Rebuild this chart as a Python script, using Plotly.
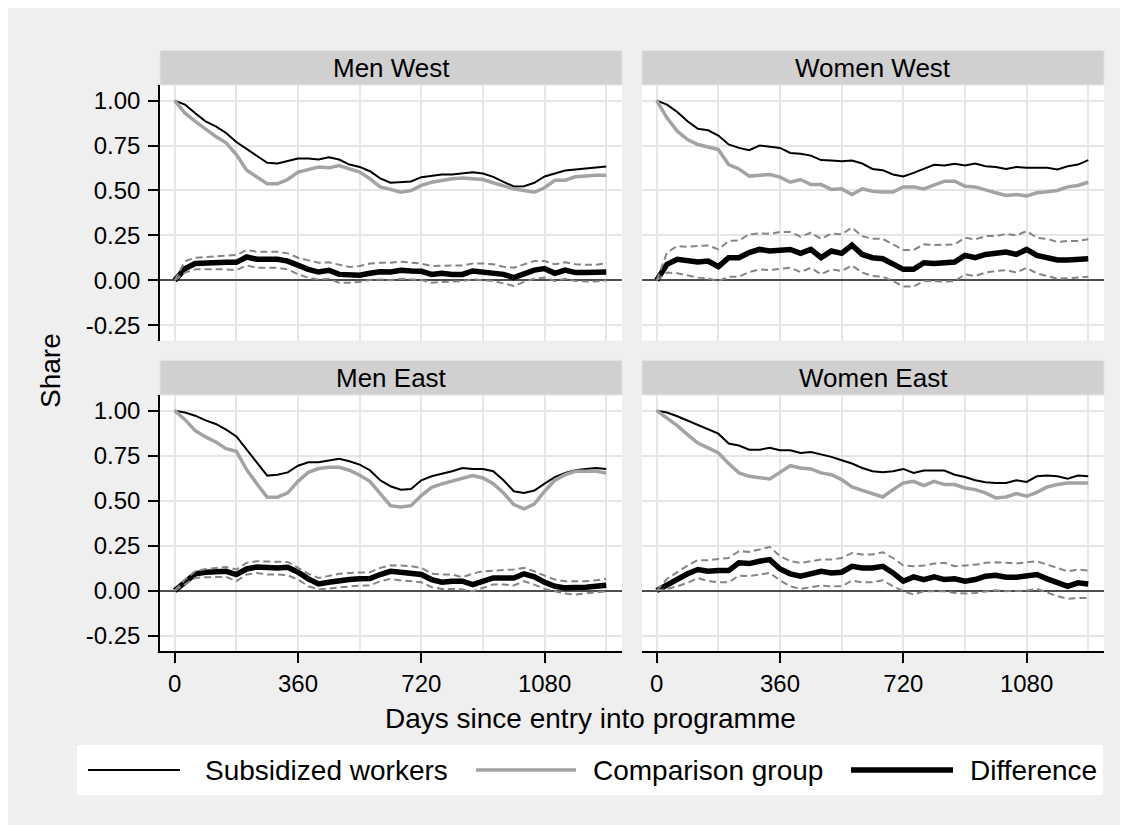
import plotly.graph_objects as go
from plotly.subplots import make_subplots

# ---------------- data ----------------
days = list(range(0, 1261, 30))

panels = ["Men West", "Women West", "Men East", "Women East"]

men_west_sub = [1.0, 0.978, 0.93, 0.885, 0.857, 0.82, 0.77, 0.73, 0.69, 0.654, 0.65, 0.663, 0.678, 0.678,
                0.672, 0.685, 0.672, 0.644, 0.631, 0.607, 0.567, 0.543, 0.548, 0.55, 0.574, 0.58, 0.589,
                0.589, 0.594, 0.602, 0.594, 0.576, 0.548, 0.522, 0.524, 0.543, 0.578, 0.593, 0.611, 0.617,
                0.622, 0.626, 0.633]
men_west_cmp = [1.0, 0.93, 0.885, 0.84, 0.80, 0.765, 0.70, 0.613, 0.574, 0.537, 0.537, 0.561, 0.602, 0.617,
                0.631, 0.626, 0.639, 0.62, 0.602, 0.565, 0.52, 0.506, 0.49, 0.50, 0.528, 0.546, 0.557,
                0.565, 0.57, 0.565, 0.561, 0.543, 0.528, 0.509, 0.50, 0.49, 0.515, 0.557, 0.557, 0.576,
                0.58, 0.585, 0.585]
men_west_dif = [0.0, 0.065, 0.094, 0.098, 0.10, 0.10, 0.10, 0.13, 0.117, 0.117, 0.117, 0.107, 0.08, 0.061,
                0.046, 0.056, 0.033, 0.028, 0.028, 0.039, 0.048, 0.046, 0.056, 0.052, 0.05, 0.033, 0.039,
                0.033, 0.033, 0.052, 0.046, 0.046, 0.033, 0.015, 0.037, 0.057, 0.065, 0.039, 0.057, 0.043,
                0.043, 0.043, 0.046]
men_west_hi = [0.0, 0.107, 0.126, 0.13, 0.135, 0.141, 0.141, 0.168, 0.159, 0.159, 0.159, 0.15, 0.126, 0.111,
               0.098, 0.10, 0.085, 0.074, 0.08, 0.093, 0.098, 0.098, 0.104, 0.098, 0.093, 0.08, 0.08,
               0.08, 0.083, 0.094, 0.094, 0.089, 0.076, 0.07, 0.089, 0.107, 0.107, 0.089, 0.10, 0.089,
               0.087, 0.087, 0.094]
men_west_lo = [0.0, 0.043, 0.061, 0.061, 0.065, 0.061, 0.057, 0.083, 0.07, 0.07, 0.07, 0.061, 0.033, 0.015,
               0.005, 0.009, -0.013, -0.013, -0.009, 0.002, 0.005, 0.0, 0.009, 0.005, 0.002, -0.013, -0.009,
               -0.009, -0.004, 0.005, 0.0, -0.004, -0.017, -0.031, -0.009, 0.009, 0.015, -0.004, 0.009,
               -0.004, -0.007, -0.007, 0.0]

women_west_sub = [1.0, 0.978, 0.937, 0.885, 0.843, 0.835, 0.806, 0.756, 0.737, 0.724, 0.75, 0.743, 0.737,
                  0.709, 0.704, 0.694, 0.669, 0.667, 0.663, 0.667, 0.65, 0.62, 0.613, 0.589, 0.578, 0.598,
                  0.62, 0.643, 0.639, 0.648, 0.639, 0.65, 0.635, 0.631, 0.62, 0.631, 0.626, 0.626, 0.626,
                  0.617, 0.635, 0.644, 0.669]
women_west_cmp = [1.0, 0.904, 0.83, 0.783, 0.756, 0.743, 0.728, 0.644, 0.62, 0.58, 0.585, 0.589, 0.574,
                  0.546, 0.561, 0.533, 0.533, 0.506, 0.509, 0.478, 0.509, 0.496, 0.491, 0.491, 0.52, 0.52,
                  0.509, 0.533, 0.552, 0.552, 0.524, 0.52, 0.506, 0.487, 0.472, 0.478, 0.469, 0.487, 0.493,
                  0.50, 0.52, 0.528, 0.546]
women_west_dif = [0.0, 0.089, 0.117, 0.111, 0.102, 0.107, 0.076, 0.126, 0.126, 0.154, 0.172, 0.163, 0.169,
                  0.172, 0.15, 0.172, 0.126, 0.163, 0.15, 0.196, 0.144, 0.126, 0.12, 0.093, 0.061, 0.061,
                  0.098, 0.093, 0.098, 0.102, 0.139, 0.126, 0.144, 0.15, 0.157, 0.144, 0.172, 0.139, 0.126,
                  0.113, 0.113, 0.113, 0.12]
women_west_hi = [0.0, 0.154, 0.191, 0.187, 0.191, 0.194, 0.172, 0.219, 0.222, 0.256, 0.261, 0.259, 0.269,
                 0.269, 0.243, 0.265, 0.231, 0.261, 0.256, 0.293, 0.246, 0.231, 0.231, 0.20, 0.169, 0.169,
                 0.20, 0.196, 0.196, 0.20, 0.237, 0.228, 0.246, 0.246, 0.259, 0.25, 0.274, 0.237, 0.231,
                 0.213, 0.219, 0.219, 0.228]
women_west_lo = [0.0, 0.043, 0.039, 0.028, 0.015, 0.011, -0.004, 0.02, 0.02, 0.046, 0.061, 0.057, 0.065,
                 0.07, 0.046, 0.07, 0.033, 0.061, 0.052, 0.083, 0.043, 0.024, 0.02, -0.004, -0.035, -0.035,
                 -0.004, -0.007, -0.007, -0.004, 0.033, 0.024, 0.043, 0.052, 0.057, 0.043, 0.07, 0.039,
                 0.024, 0.009, 0.011, 0.015, 0.02]

men_east_sub = [1.0, 0.99, 0.972, 0.946, 0.926, 0.894, 0.857, 0.783, 0.709, 0.639, 0.644, 0.657, 0.694,
                0.713, 0.713, 0.724, 0.733, 0.719, 0.70, 0.669, 0.613, 0.58, 0.561, 0.565, 0.613, 0.635,
                0.648, 0.663, 0.681, 0.676, 0.676, 0.663, 0.613, 0.552, 0.543, 0.556, 0.594, 0.631, 0.654,
                0.669, 0.676, 0.681, 0.676]
men_east_cmp = [1.0, 0.95, 0.889, 0.854, 0.826, 0.789, 0.774, 0.672, 0.593, 0.519, 0.519, 0.543, 0.607,
                0.657, 0.678, 0.685, 0.685, 0.669, 0.641, 0.607, 0.539, 0.472, 0.465, 0.472, 0.528, 0.574,
                0.593, 0.607, 0.626, 0.639, 0.626, 0.594, 0.543, 0.478, 0.454, 0.481, 0.552, 0.613, 0.644,
                0.663, 0.663, 0.663, 0.654]
men_east_dif = [0.0, 0.046, 0.093, 0.102, 0.102, 0.107, 0.089, 0.12, 0.131, 0.126, 0.126, 0.13, 0.102,
                0.065, 0.037, 0.046, 0.056, 0.061, 0.065, 0.067, 0.089, 0.107, 0.102, 0.098, 0.089, 0.061,
                0.046, 0.052, 0.052, 0.033, 0.052, 0.07, 0.07, 0.07, 0.093, 0.076, 0.046, 0.024, 0.015,
                0.015, 0.019, 0.024, 0.03]
men_east_hi = [0.0, 0.061, 0.107, 0.12, 0.126, 0.131, 0.117, 0.154, 0.163, 0.163, 0.163, 0.159, 0.126,
               0.093, 0.07, 0.08, 0.093, 0.098, 0.098, 0.102, 0.126, 0.141, 0.139, 0.135, 0.126, 0.094,
               0.089, 0.089, 0.074, 0.094, 0.107, 0.111, 0.117, 0.117, 0.126, 0.107, 0.083, 0.061, 0.052,
               0.052, 0.052, 0.057, 0.065]
men_east_lo = [0.0, 0.033, 0.07, 0.074, 0.076, 0.076, 0.052, 0.089, 0.098, 0.089, 0.089, 0.085, 0.061,
               0.024, 0.006, 0.011, 0.019, 0.024, 0.028, 0.028, 0.052, 0.065, 0.056, 0.052, 0.046, 0.019,
               0.009, 0.009, 0.006, -0.004, 0.015, 0.033, 0.033, 0.028, 0.052, 0.033, 0.009, -0.004,
               -0.017, -0.022, -0.017, -0.009, -0.004]

women_east_sub = [1.0, 0.99, 0.969, 0.944, 0.922, 0.894, 0.872, 0.817, 0.806, 0.783, 0.783, 0.793, 0.78,
                  0.78, 0.765, 0.77, 0.756, 0.743, 0.724, 0.706, 0.681, 0.663, 0.657, 0.663, 0.676, 0.654,
                  0.667, 0.667, 0.667, 0.644, 0.631, 0.613, 0.602, 0.598, 0.598, 0.613, 0.604, 0.635,
                  0.639, 0.635, 0.622, 0.639, 0.635]
women_east_cmp = [1.0, 0.959, 0.917, 0.867, 0.82, 0.793, 0.765, 0.706, 0.654, 0.635, 0.626, 0.62, 0.657,
                  0.694, 0.681, 0.676, 0.654, 0.644, 0.617, 0.576, 0.557, 0.539, 0.52, 0.561, 0.598, 0.607,
                  0.583, 0.607, 0.589, 0.589, 0.57, 0.561, 0.543, 0.515, 0.52, 0.539, 0.524, 0.546, 0.576,
                  0.589, 0.598, 0.598, 0.598]
women_east_dif = [0.0, 0.033, 0.061, 0.093, 0.117, 0.107, 0.111, 0.111, 0.154, 0.15, 0.163, 0.172, 0.12,
                  0.093, 0.08, 0.093, 0.107, 0.098, 0.102, 0.135, 0.126, 0.126, 0.135, 0.098, 0.052, 0.076,
                  0.061, 0.076, 0.061, 0.065, 0.052, 0.061, 0.08, 0.085, 0.074, 0.074, 0.08, 0.089, 0.065,
                  0.046, 0.024, 0.043, 0.037]
women_east_hi = [0.0, 0.065, 0.102, 0.139, 0.169, 0.169, 0.176, 0.181, 0.219, 0.215, 0.228, 0.243, 0.191,
                 0.163, 0.154, 0.163, 0.172, 0.172, 0.181, 0.209, 0.20, 0.20, 0.213, 0.181, 0.139, 0.135,
                 0.139, 0.15, 0.154, 0.135, 0.139, 0.144, 0.154, 0.157, 0.154, 0.15, 0.157, 0.163, 0.144,
                 0.126, 0.107, 0.117, 0.111]
women_east_lo = [0.0, 0.009, 0.024, 0.043, 0.07, 0.052, 0.046, 0.046, 0.083, 0.08, 0.089, 0.098, 0.057,
                 0.024, 0.009, 0.02, 0.028, 0.024, 0.024, 0.056, 0.046, 0.046, 0.057, 0.024, -0.004, -0.022,
                 -0.004, -0.004, -0.004, -0.013, -0.017, -0.013, -0.004, 0.002, -0.004, -0.004, 0.0,
                 0.009, -0.013, -0.031, -0.046, -0.041, -0.041]

y_tick_vals = [-0.25, 0.0, 0.25, 0.5, 0.75, 1.0]
y_tick_text = ["-0.25", "0.00", "0.25", "0.50", "0.75", "1.00"]
x_tick_vals = [0, 360, 720, 1080]
x_tick_text = ["0", "360", "720", "1080"]
x_minor_grid = [180, 540, 900, 1260]

legend_labels = ["Subsidized workers", "Comparison group", "Difference"]
y_title = "Share"
x_title = "Days since entry into programme"

panel_data = {
    "Men West": (men_west_sub, men_west_cmp, men_west_dif, men_west_hi, men_west_lo),
    "Women West": (women_west_sub, women_west_cmp, women_west_dif, women_west_hi, women_west_lo),
    "Men East": (men_east_sub, men_east_cmp, men_east_dif, men_east_hi, men_east_lo),
    "Women East": (women_east_sub, women_east_cmp, women_east_dif, women_east_hi, women_east_lo),
}

# ---------------- layout geometry ----------------
# positions below are page pixels; the page body adds an 8 px offset
OFF = 8
W, H = 1128, 825
ML, MR, MT, MB = 152, 32, 43, 182
PW, PH = W - ML - MR, H - MT - MB


def px(xp):
    return (xp - OFF - ML) / PW


def py(yp):
    return (H - MB - (yp - OFF)) / PH


FONT = "Liberation Sans, Arial, sans-serif"
BG = "#efefef"
GRID = "#e6e6e6"
AX = "#000000"

fig = make_subplots(rows=2, cols=2)

SUB = dict(color="#000000", width=2)
CMP = dict(color="#a3a3a3", width=3.5)
DIF = dict(color="#000000", width=5.5)
CI = dict(color="#858585", width=2, dash="7px,4px")

positions = {"Men West": (1, 1), "Women West": (1, 2), "Men East": (2, 1), "Women East": (2, 2)}

for name in panels:
    r, c = positions[name]
    sub, cmp_, dif, hi, lo = panel_data[name]
    for vals, ln in ((sub, SUB), (cmp_, CMP), (dif, DIF), (hi, CI), (lo, CI)):
        fig.add_trace(go.Scatter(x=days, y=vals, mode="lines", line=ln, showlegend=False,
                                 hoverinfo="skip"), row=r, col=c)

xdom = {1: [px(160), px(622)], 2: [px(642), px(1104)]}
ydom = {1: [py(340.7), py(85)], 2: [py(651), py(395)]}
axis_names = {(1, 1): ("xaxis", "yaxis"), (1, 2): ("xaxis2", "yaxis2"),
              (2, 1): ("xaxis3", "yaxis3"), (2, 2): ("xaxis4", "yaxis4")}

layout_axes = {}
for (r, c), (xa, ya) in axis_names.items():
    bottom = r == 2
    left = c == 1
    layout_axes[xa] = dict(
        domain=xdom[c], range=[-43, 1306], tickmode="array", tickvals=x_tick_vals,
        ticktext=x_tick_text, showgrid=True, gridcolor=GRID, gridwidth=2, zeroline=False,
        showticklabels=bottom, ticks="outside" if bottom else "", ticklen=10, tickwidth=1.5,
        tickcolor=AX, showline=bottom, linecolor=AX, linewidth=1.5,
        tickfont=dict(family=FONT, size=24, color="#000000"),
        minor=dict(tickmode="array", tickvals=x_minor_grid, showgrid=True, gridcolor=GRID,
                   gridwidth=2, ticks=""),
        fixedrange=True,
    )
    layout_axes[ya] = dict(
        domain=ydom[r], range=[-0.336, 1.087], tickmode="array", tickvals=y_tick_vals,
        ticktext=y_tick_text, showgrid=True, gridcolor=GRID, gridwidth=2,
        zeroline=True, zerolinecolor="#4d4d4d", zerolinewidth=2,
        showticklabels=left, ticks="outside" if left else "", ticklen=10, tickwidth=1.5,
        tickcolor=AX, showline=left, linecolor=AX, linewidth=1.5,
        tickfont=dict(family=FONT, size=24, color="#000000"),
        ticklabelstandoff=3,
        fixedrange=True,
    )

fig.update_layout(**layout_axes)

shapes = []
annotations = []

# strips with panel titles
for name in panels:
    r, c = positions[name]
    xa, ya = axis_names[(r, c)]
    xr = xa.replace("axis", "") + " domain"
    yr = ya.replace("axis", "") + " domain"
    shapes.append(dict(type="rect", xref=xr, yref=yr, x0=0, x1=1, y0=1.0, y1=1.135,
                       fillcolor="#d0d0d0", line=dict(color="#dfe5ec", width=1)))
    annotations.append(dict(text=name, xref=xr, yref=yr, x=0.5, y=1.0675, showarrow=False,
                            xanchor="center", yanchor="middle",
                            font=dict(family=FONT, size=26, color="#000000")))

# axis titles
annotations.append(dict(text=y_title, xref="paper", yref="paper", x=px(50), y=py(371),
                        showarrow=False, textangle=-90, xanchor="center", yanchor="middle",
                        font=dict(family=FONT, size=28, color="#000000")))
annotations.append(dict(text=x_title, xref="paper", yref="paper", x=px(590), y=py(718),
                        showarrow=False, xanchor="center", yanchor="middle",
                        font=dict(family=FONT, size=28, color="#000000")))

# legend box
shapes.append(dict(type="rect", xref="paper", yref="paper", x0=px(77), x1=px(1103),
                   y0=py(795), y1=py(745), fillcolor="#ffffff", line=dict(width=0)))
legend_styles = [SUB, CMP, DIF]
legend_line_x = [(88, 180), (476, 576), (851, 953)]
legend_text_x = [203, 591, 968]
for lab, st, (lx0, lx1), tx in zip(legend_labels, legend_styles, legend_line_x, legend_text_x):
    shapes.append(dict(type="line", xref="paper", yref="paper", x0=px(lx0), x1=px(lx1),
                       y0=py(770), y1=py(770), line=dict(color=st["color"], width=st["width"])))
    annotations.append(dict(text=lab, xref="paper", yref="paper", x=px(tx), y=py(770),
                            showarrow=False, xanchor="left", yanchor="middle",
                            font=dict(family=FONT, size=28, color="#000000")))

fig.update_layout(
    width=W, height=H,
    margin=dict(l=ML, r=MR, t=MT, b=MB, pad=0),
    paper_bgcolor=BG, plot_bgcolor="#ffffff",
    shapes=shapes, annotations=annotations,
    showlegend=False,
    font=dict(family=FONT, size=24, color="#000000"),
)

fig.write_html("out.html")
